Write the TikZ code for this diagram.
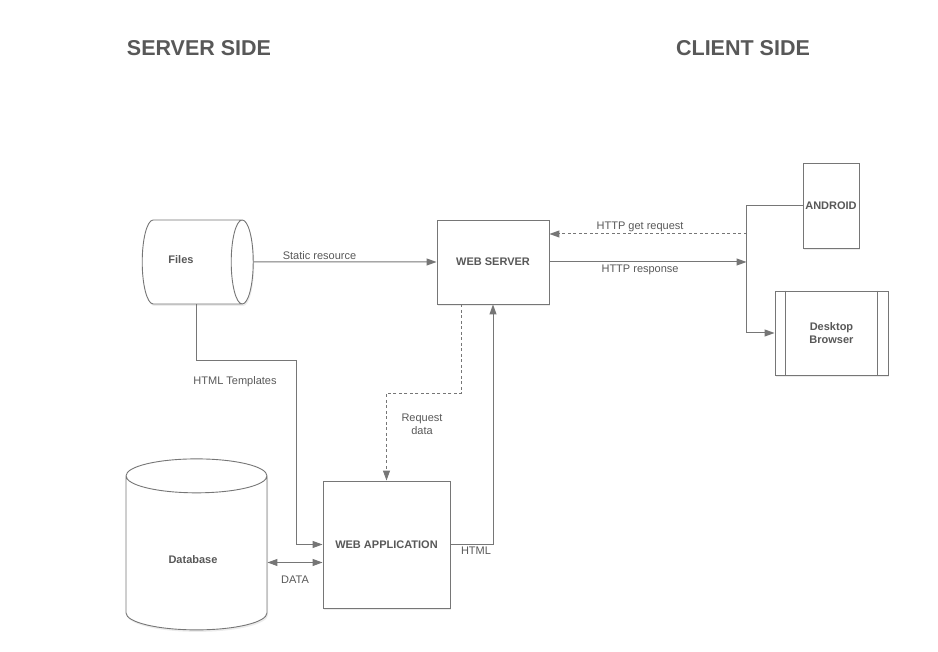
\documentclass[tikz,border=0pt]{standalone}
\usepackage{fontspec}
\setmainfont{Liberation Sans}
\usepackage{xcolor}
\usepackage{tikz}
\usetikzlibrary{positioning}
\usetikzlibrary{shapes.geometric}
\usetikzlibrary{arrows.meta}
\usetikzlibrary{shadows}

\definecolor{linegray}{RGB}{118,118,118}
\definecolor{textgray}{RGB}{88,88,88}

\begin{document}
\begin{tikzpicture}
  [
    x=1pt, y=1pt,
    >={Triangle[length=10pt,width=7pt]},
    every node/.style={text=textgray, font=\fontsize{11}{13}\selectfont},
    box/.style={
      draw=linegray,
      line width=0.9pt,
      fill=white,
      inner sep=0pt,
      font=\fontsize{11}{13}\selectfont\bfseries,
      drop shadow={shadow xshift=1pt, shadow yshift=-2pt, fill=black!12, opacity=0.6}
    },
    store/.style={box, cylinder},
    title/.style={font=\fontsize{21.5}{26}\selectfont\bfseries},
    lbl/.style={inner sep=2pt},
    blbl/.style={font=\fontsize{11}{13}\selectfont\bfseries},
    ln/.style={draw=linegray, line width=1pt},
    ld/.style={ln, ->},
    dsh/.style={ln, ->, dash pattern=on 3pt off 2.5pt}
  ]
  \useasboundingbox (0,0) rectangle (938,652);

  % titles
  \node (srvtitle) at (199,604) [title] {SERVER SIDE};
  \node (clititle) at (743,604) [title] {CLIENT SIDE};

  % server side
  \node (files) at (186.5,390) [store, inner ysep=40pt, shape aspect=0.275,
    minimum width=84pt, minimum height=111pt] {};
  \node (fileslbl) at (181,392) [blbl] {Files};
  \node (webserver) at (493,390) [box, minimum width=112pt, minimum height=84pt] {WEB SERVER};
  \node (webapp) at (386.5,107.5) [box, minimum width=127pt, minimum height=127pt] {WEB APPLICATION};
  \node (database) at (196.5,90.5) [store, shape border rotate=90, inner xsep=60pt, shape aspect=0.283,
    minimum width=141pt, minimum height=171pt] {};
  \node (dblbl) at (193,92) [blbl] {Database};

  % client side
  \node (android) at (831,446.5) [box, minimum width=56pt, minimum height=85pt] {ANDROID};
  \node (desktop) at (831.5,319) [box, minimum width=113pt, minimum height=84pt, align=center] {Desktop\\Browser};
  \draw [ln, line width=0.9pt] ([xshift=11pt]desktop.north west) -- ([xshift=11pt]desktop.south west);
  \draw [ln, line width=0.9pt] ([xshift=-11pt]desktop.north east) -- ([xshift=-11pt]desktop.south east);

  % connectors
  \coordinate (bus) at (746.5,418);
  \coordinate (tmpl) at (296,291);

  \draw [ld] (files.east) -- (webserver.west) node [lbl, pos=0.36, above] {Static resource};
  \draw [ld] (android.west) -| (bus) |- (desktop.west);
  \draw [dsh] (bus) -- (bus -| webserver.east) node [lbl, pos=0.54, above] {HTTP get request};
  \draw [ld] (webserver.east) -- (webserver.east -| bus) node [lbl, pos=0.46, below] {HTTP response};

  \draw [ld] ([xshift=9.5pt]files.south) |- (tmpl) |- (webapp.west);
  \node (tmpllbl) at (235,270) [lbl] {HTML Templates};

  \draw [dsh] ([xshift=25pt]webserver.south west) -- ++(0,-88.7) -| (webapp.north);
  \node (reqlbl) at (422,227.5) [lbl, align=center] {Request\\data};

  \draw [ld] (webapp.east) -| (webserver.south) node [lbl, pos=0.3, below] {HTML};
  \draw [ln, <->] ([yshift=-18pt]webapp.west) -- ([yshift=-18pt]webapp.west -| database.east)
    node [lbl, midway, below=11pt] {DATA};

\end{tikzpicture}
\end{document}
